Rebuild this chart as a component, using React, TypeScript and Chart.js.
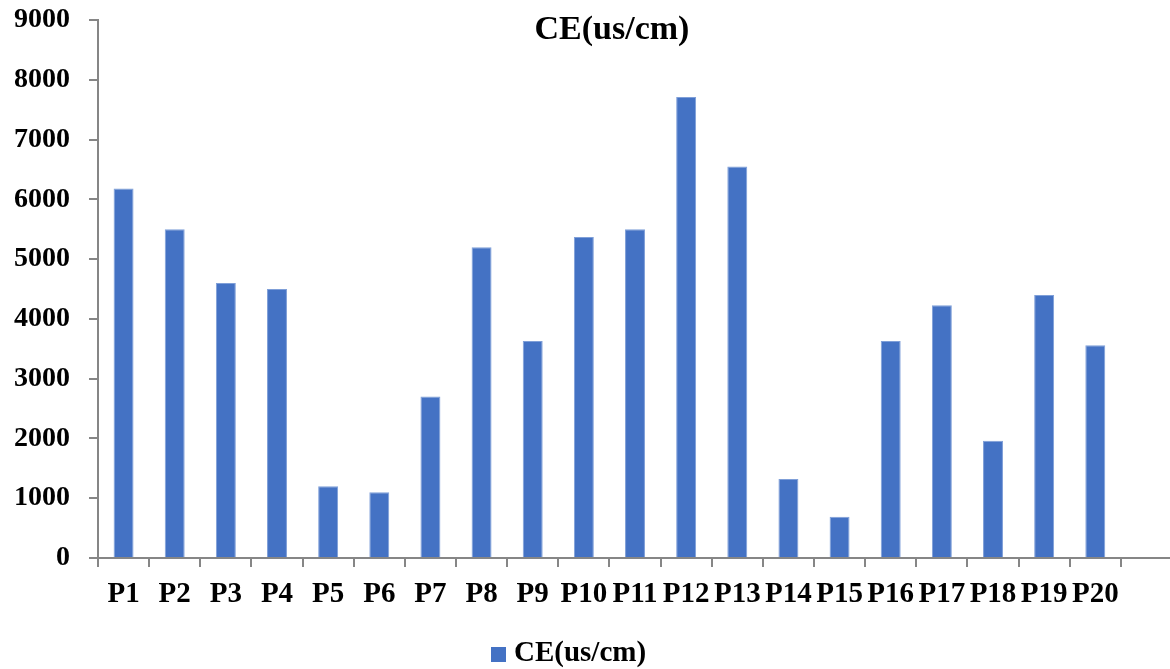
import React, { useEffect, useRef } from "react";
import { Chart, registerables } from "chart.js";

Chart.register(...registerables);

const categories = [
  "P1", "P2", "P3", "P4", "P5", "P6", "P7", "P8", "P9", "P10",
  "P11", "P12", "P13", "P14", "P15", "P16", "P17", "P18", "P19", "P20", "",
];
const ceValues = [
  6180, 5500, 4600, 4500, 1200, 1100, 2700, 5200, 3630, 5370,
  5500, 7710, 6550, 1320, 690, 3630, 4230, 1960, 4400, 3560, null,
];
const yTickValues = [0, 1000, 2000, 3000, 4000, 5000, 6000, 7000, 8000, 9000];
const seriesLabel = "CE(us/cm)";
const chartTitle = "CE(us/cm)";

const FONT = "'Liberation Serif', 'Times New Roman', serif";
const AXIS = "#868686";
const BAR = "#4472C4";

export default function App() {
  const ref = useRef<HTMLCanvasElement | null>(null);

  useEffect(() => {
    const canvas = ref.current;
    if (!canvas) return;

    const overlay = {
      id: "overlay",
      afterDraw(chart: any) {
        const ctx = chart.ctx;
        ctx.save();
        ctx.fillStyle = "#000";
        ctx.font = `bold 34px ${FONT}`;
        ctx.textAlign = "center";
        ctx.textBaseline = "middle";
        ctx.fillText(chartTitle, 612, 30);
        // legend
        ctx.fillStyle = BAR;
        ctx.fillRect(491, 647, 15, 15);
        ctx.fillStyle = "#000";
        ctx.font = `bold 29px ${FONT}`;
        ctx.textAlign = "left";
        ctx.fillText(seriesLabel, 514, 654);
        ctx.restore();
      },
    };

    const chart = new Chart(canvas, {
      type: "bar",
      data: {
        labels: categories,
        datasets: [
          {
            label: seriesLabel,
            data: ceValues,
            backgroundColor: BAR,
            borderColor: "#7F9FD8",
            borderWidth: 1,
            categoryPercentage: 1,
            barPercentage: 0.39,
          },
        ],
      },
      options: {
        responsive: false,
        animation: false,
        devicePixelRatio: 1,
        layout: { padding: { left: 0, right: 13, top: 20, bottom: 0 } },
        plugins: {
          legend: { display: false },
          title: { display: false },
          tooltip: { enabled: false },
        },
        scales: {
          x: {
            offset: true,
            grid: {
              display: true,
              drawOnChartArea: false,
              drawTicks: true,
              tickLength: 9,
              color: AXIS,
              lineWidth: 2,
              offset: true,
            },
            border: { display: true, color: AXIS, width: 2 },
            ticks: {
              autoSkip: false,
              maxRotation: 0,
              minRotation: 0,
              padding: 10,
              color: "#000",
              font: { family: FONT, size: 29, weight: "bold" },
            },
            afterFit(scale: any) {
              scale.height = 111;
              scale.paddingLeft = 0;
              scale.paddingRight = 0;
            },
          },
          y: {
            min: 0,
            max: 9000,
            afterBuildTicks(scale: any) {
              scale.ticks = yTickValues.map((v) => ({ value: v }));
            },
            grid: {
              display: true,
              drawOnChartArea: false,
              drawTicks: true,
              tickLength: 9,
              color: AXIS,
              lineWidth: 2,
            },
            border: { display: true, color: AXIS, width: 2 },
            ticks: {
              padding: 19,
              color: "#000",
              font: { family: FONT, size: 28, weight: "bold" },
              callback: (v: any) => String(v),
            },
            afterFit(scale: any) {
              scale.width = 98;
              scale.paddingTop = 0;
              scale.paddingBottom = 0;
            },
          },
        },
      },
      plugins: [overlay],
    });

    return () => chart.destroy();
  }, []);

  return (
    <div
      style={{
        position: "absolute",
        left: 0,
        top: 0,
        width: 1170,
        height: 669,
        overflow: "hidden",
        background: "#fff",
      }}
    >
      <canvas
        ref={ref}
        width={1185}
        height={669}
        style={{ width: 1185, height: 669, display: "block" }}
      />
    </div>
  );
}
